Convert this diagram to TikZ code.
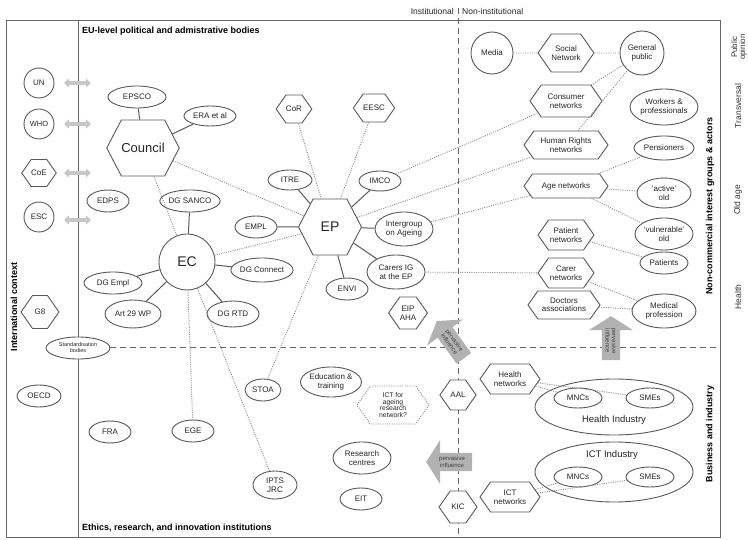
\documentclass[tikz,border=0pt]{standalone}
\usepackage{fontspec}
\setmainfont{Liberation Sans}
\usetikzlibrary{shapes.geometric,shapes.symbols,shapes.arrows,arrows.meta}
\begin{document}
\begin{tikzpicture}[x=1pt,y=-1pt,
  every node/.style={font=\fontsize{8}{8.5}\selectfont, align=center, inner sep=0pt, text=black!85},
  el/.style n args={2}{ellipse, draw=black!65, line width=0.9pt, fill=white, minimum width=#1, minimum height=#2},
  hx/.style n args={2}{signal, signal to=east and west, signal pointer angle=110, draw=black!65, line width=0.9pt, fill=white, minimum width=#1, minimum height=#2},
  circ/.style={circle, draw=black!65, line width=0.9pt, fill=white, minimum size=#1},
  dotl/.style={draw=black!45, line width=0.9pt, dash pattern=on 1pt off 1.3pt},
  sol/.style={draw=black!65, line width=1pt},
  frame/.style={draw=black!60, line width=0.9pt},
  dsh/.style={draw=black!60, line width=1pt, dash pattern=on 6pt off 4pt},
  garrow/.style={draw=black!22, line width=3.5pt, {Triangle[length=5pt,width=9pt]}-{Triangle[length=5pt,width=9pt]}},
  pinf/.style={single arrow, fill=black!30, single arrow head extend=8pt, single arrow tip angle=115, minimum width=44pt, minimum height=#1, font=\fontsize{6}{6.3}\selectfont, text=black!75},
  ttl/.style={font=\fontsize{9}{10}\selectfont\bfseries, text=black},
  side/.style={font=\fontsize{8.5}{9}\selectfont, text=black!80}
]
\useasboundingbox (0,0) rectangle (748,540);

% frame
\draw[frame] (6,20) rectangle (720,537);
\draw[frame] (78,20) -- (78,537);
\draw[dsh] (458,8) -- (458,537);

% top labels
\node[anchor=east, font=\fontsize{8.5}{9}\selectfont] (inst) at (454,11) {Institutional};
\node[anchor=west, font=\fontsize{8.5}{9}\selectfont] (noninst) at (462,11) {Non-institutional};
\node[ttl, anchor=west] (t1) at (82,31) {EU-level political and admistrative bodies};
\node[ttl, anchor=west] (t2) at (82,528) {Ethics, research, and innovation institutions};
\node[ttl, rotate=90] (t3) at (14,307) {International context};
\node[ttl, rotate=90] (t4) at (710,206) {Non-commercial interest groups \& actors};
\node[ttl, rotate=90] (t5) at (710,434) {Business and industry};
\node[side, rotate=90, font=\fontsize{8}{8}\selectfont] (s1) at (739,47) {Public\\opinion};
\node[side, rotate=90] (s2) at (738,106) {Transversal};
\node[side, rotate=90] (s3) at (738,200) {Old age};
\node[side, rotate=90] (s4) at (738,297) {Health};

% international
\node[circ=30pt] (un) at (39,83) {UN};
\node[circ=30pt, font=\fontsize{7.5}{7.5}\selectfont] (who) at (39,124) {WHO};
\node[hx={32pt}{27pt}] (coe) at (39,173) {CoE};
\node[circ=30pt] (esc) at (39,217) {ESC};
\node[hx={38pt}{33pt}] (g8) at (40,312) {G8};
\node[el={44pt}{22pt}] (oecd) at (39,396) {OECD};
\node[el={64pt}{22pt}, font=\fontsize{5.5}{6}\selectfont] (std) at (78,348) {Standardisation\\bodies};
\draw[dsh] (std) -- (720,348);

\foreach \yy/\nm in {83/a, 124/b, 173/c, 220/d}{
  \coordinate (g\nm1) at (64,\yy);
  \coordinate (g\nm2) at (91,\yy);
  \draw[garrow] (g\nm1) -- (g\nm2);
}

% Council & EC
\node[hx={64pt}{56pt}, signal pointer angle=125, font=\fontsize{13}{14}\selectfont] (council) at (143,148) {Council};
\node[el={58pt}{22pt}] (epsco) at (137,97) {EPSCO};
\node[el={52pt}{20pt}] (era) at (210,116) {ERA et al};
\node[el={42pt}{22pt}] (edps) at (108,201) {EDPS};
\node[el={58pt}{22pt}] (sanco) at (190,201) {DG SANCO};
\node[circ=56pt, font=\fontsize{14}{15}\selectfont] (ec) at (187,262) {EC};
\node[el={58pt}{22pt}] (dgempl) at (113,283) {DG Empl};
\node[el={56pt}{28pt}] (art29) at (133,314) {Art 29 WP};
\node[el={52pt}{26pt}] (rtd) at (233,314) {DG RTD};
\node[el={60pt}{24pt}] (connect) at (262,270) {DG Connect};

% EP
\node[hx={63pt}{56pt}, signal pointer angle=125, font=\fontsize{14}{15}\selectfont] (ep) at (330,227) {EP};
\node[el={44pt}{20pt}] (itre) at (290,180) {ITRE};
\node[el={42pt}{20pt}] (imco) at (380,181) {IMCO};
\node[hx={32pt}{28pt}] (cor) at (294,109) {CoR};
\node[hx={32pt}{28pt}] (eesc) at (374,108) {EESC};
\node[el={42pt}{22pt}] (empl) at (256,227) {EMPL};
\node[el={58pt}{34pt}] (inter) at (404,229) {Intergroup\\on Ageing};
\node[el={58pt}{34pt}] (carers) at (396,272) {Carers IG\\at the EP};
\node[el={42pt}{22pt}] (envi) at (347,289) {ENVI};
\node[hx={36pt}{32pt}] (eip) at (408,313) {EIP\\AHA};

% lower left
\node[el={42pt}{22pt}] (fra) at (110,432) {FRA};
\node[el={42pt}{22pt}] (ege) at (193,431) {EGE};
\node[el={36pt}{22pt}] (stoa) at (263,390) {STOA};
\node[el={58pt}{30pt}] (edu) at (331,382) {Education \&\\training};
\node[hx={72pt}{38pt}, dotl, font=\fontsize{6.8}{6.6}\selectfont] (ictage) at (393,405) {ICT for\\ageing\\research\\network?};
\node[hx={34pt}{30pt}] (aal) at (458,395) {AAL};
\node[el={58pt}{32pt}] (res) at (362,458) {Research\\centres};
\node[el={44pt}{28pt}] (ipts) at (275,485) {IPTS\\JRC};
\node[el={42pt}{22pt}] (eit) at (361,499) {EIT};
\node[hx={38pt}{32pt}] (kic) at (458,507) {KIC};

% non-institutional
\node[circ=42pt] (media) at (492,53) {Media};
\node[hx={48pt}{38pt}] (social) at (566,53) {Social\\Network};
\node[circ=44pt] (gp) at (642,53) {General\\public};
\node[hx={72pt}{32pt}] (consumer) at (566,101) {Consumer\\networks};
\node[el={68pt}{36pt}] (workers) at (664,107) {Workers \&\\professionals};
\node[hx={84pt}{28pt}] (hr) at (566,145) {Human Rights\\networks};
\node[el={60pt}{24pt}] (pens) at (664,148) {Pensioners};
\node[hx={84pt}{24pt}] (agenet) at (566,186) {Age networks};
\node[el={54pt}{30pt}] (active) at (664,193) {`active'\\old};
\node[el={58pt}{32pt}] (vuln) at (664,234) {`vulnerable'\\old};
\node[hx={56pt}{30pt}] (patnet) at (566,235) {Patient\\networks};
\node[el={48pt}{22pt}] (patients) at (664,263) {Patients};
\node[hx={56pt}{30pt}] (carernet) at (566,273) {Carer\\networks};
\node[hx={72pt}{28pt}] (doctors) at (564,305) {Doctors\\associations};
\node[el={64pt}{34pt}] (medical) at (664,311) {Medical\\profession};

% business
\node[hx={60pt}{30pt}] (healthnet) at (510,379) {Health\\networks};
\node[el={158pt}{56pt}] (hind) at (614,407) {};
\node[font=\fontsize{9.5}{10}\selectfont] (hindl) at (614,420) {Health Industry};
\node[el={48pt}{20pt}] (hmnc) at (578,398) {MNCs};
\node[el={48pt}{20pt}] (hsme) at (650,398) {SMEs};
\node[el={158pt}{60pt}] (iind) at (614,472) {};
\node[font=\fontsize{9.5}{10}\selectfont] (iindl) at (612,455) {ICT Industry};
\node[el={48pt}{20pt}] (imnc) at (578,477) {MNCs};
\node[el={48pt}{20pt}] (isme) at (650,477) {SMEs};
\node[hx={60pt}{30pt}] (ictnet) at (510,497) {ICT\\networks};

% pervasive influence arrows
\node[pinf=46pt, shape border rotate=180, rotate=-54] (pa1) at (452,342) {pervasive\\influence};
\node[pinf=46pt, shape border rotate=180] (pa2) at (452,462) {pervasive\\influence};
\node[pinf=44pt, shape border rotate=180, rotate=-90] (pa3) at (611,341) {pervasive\\influence};

% solid connectors
\draw[sol] (council) -- (epsco);
\draw[sol] (council) -- (era);
\draw[sol] (ec) -- (sanco);
\draw[sol] (ec) -- (dgempl);
\draw[sol] (ec) -- (art29);
\draw[sol] (ec) -- (rtd);
\draw[sol] (ec) -- (connect);
\draw[sol] (ep) -- (itre);
\draw[sol] (ep) -- (imco);
\draw[sol] (ep) -- (empl);
\draw[sol] (ep) -- (inter);
\draw[sol] (ep) -- (carers);
\draw[sol] (ep) -- (envi);

% dotted connectors
\draw[dotl] (council) -- (ep);
\draw[dotl] (council) -- (ec);
\draw[dotl] (ec) -- (ep);
\draw[dotl] (ec) -- (ege);
\draw[dotl] (ec) -- (ipts);
\draw[dotl] (ep) -- (stoa);
\draw[dotl] (cor) -- (ep);
\draw[dotl] (eesc) -- (ep);
\draw[dotl] (imco) -- (consumer);
\draw[dotl] (ep) -- (hr);
\draw[dotl] (inter) -- (agenet);
\draw[dotl] (carers) -- (carernet);
\draw[dotl] (media) -- (social);
\draw[dotl] (social) -- (gp);
\draw[dotl] (consumer) -- (gp);
\draw[dotl] (hr) -- (gp);
\draw[dotl] (agenet) -- (pens);
\draw[dotl] (agenet) -- (active);
\draw[dotl] (agenet) -- (vuln);
\draw[dotl] (patnet) -- (patients);
\draw[dotl] (carernet) -- (medical);
\draw[dotl] (doctors) -- (medical);
\draw[dotl] (healthnet) -- (hmnc);
\draw[dotl] (healthnet) -- (hsme);
\draw[dotl] (ictnet) -- (imnc);
\draw[dotl] (ictnet) -- (isme);
\end{tikzpicture}
\end{document}
